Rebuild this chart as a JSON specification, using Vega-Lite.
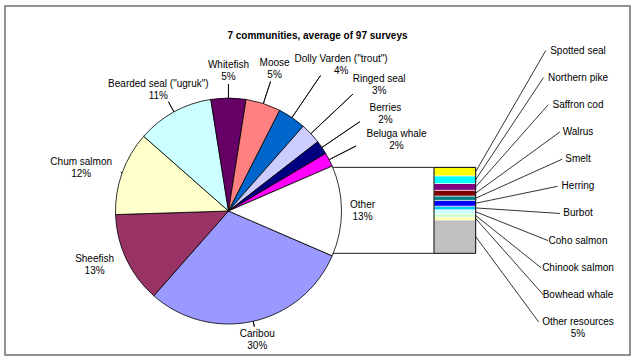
{
  "$schema": "https://vega.github.io/schema/vega-lite/v6.json",
  "width": 625,
  "height": 349,
  "autosize": "none",
  "padding": {"left": 5, "top": 6, "right": 7, "bottom": 7},
  "background": "white",
  "config": {
    "view": {"stroke": "#6f6f6f", "strokeWidth": 1.5},
    "font": "Liberation Sans",
    "text": {"font": "Liberation Sans", "fontSize": 10, "color": "#000000"}
  },
  "title": {
    "text": "7 communities, average of 97 surveys",
    "anchor": "middle",
    "font": "Liberation Sans",
    "fontSize": 10,
    "fontWeight": "bold",
    "color": "#000000",
    "baseline": "middle",
    "offset": -40.4
  },
  "datasets": {
    "pie": [
      {"name": "Caribou", "value": 0.30, "order": 1},
      {"name": "Sheefish", "value": 0.13, "order": 2},
      {"name": "Chum salmon", "value": 0.12, "order": 3},
      {"name": "Bearded seal (\"ugruk\")", "value": 0.11, "order": 4},
      {"name": "Whitefish", "value": 0.05, "order": 5},
      {"name": "Moose", "value": 0.05, "order": 6},
      {"name": "Dolly Varden (\"trout\")", "value": 0.04, "order": 7},
      {"name": "Ringed seal", "value": 0.03, "order": 8},
      {"name": "Berries", "value": 0.02, "order": 9},
      {"name": "Beluga whale", "value": 0.02, "order": 10},
      {"name": "Other", "value": 0.13, "order": 11}
    ],
    "other": [
      {"name": "Other resources", "value": 0.0505, "order": 1},
      {"name": "Bowhead whale", "value": 0.0040, "order": 2},
      {"name": "Chinook salmon", "value": 0.0052, "order": 3},
      {"name": "Coho salmon", "value": 0.0061, "order": 4},
      {"name": "Burbot", "value": 0.0055, "order": 5},
      {"name": "Herring", "value": 0.0087, "order": 6},
      {"name": "Smelt", "value": 0.0066, "order": 7},
      {"name": "Walrus", "value": 0.0087, "order": 8},
      {"name": "Saffron cod", "value": 0.0102, "order": 9},
      {"name": "Northern pike", "value": 0.0116, "order": 10},
      {"name": "Spotted seal", "value": 0.0128, "order": 11}
    ]
  },
  "layer": [
    {
      "data": {"name": "pie"},
      "encoding": {
        "x": {"datum": "centre", "type": "nominal", "scale": {"type": "point", "range": [0, 447], "padding": 0.5}, "axis": null},
        "y": {"datum": "centre", "type": "nominal", "scale": {"type": "point", "range": [0, 410], "padding": 0.5}, "axis": null},
        "theta": {"field": "value", "type": "quantitative", "stack": true, "scale": {"range": [1.979, 8.262]}},
        "order": {"field": "order", "type": "quantitative"}
      },
      "layer": [
        {
          "mark": {"type": "arc", "outerRadius": 113, "stroke": "#000000", "strokeWidth": 0.8},
          "encoding": {
            "color": {
              "field": "name",
              "type": "nominal",
              "legend": null,
              "scale": {
                "domain": ["Caribou", "Sheefish", "Chum salmon", "Bearded seal (\"ugruk\")", "Whitefish", "Moose", "Dolly Varden (\"trout\")", "Ringed seal", "Berries", "Beluga whale", "Other"],
                "range": ["#9999FF", "#993366", "#FFFFCC", "#CCFFFF", "#660066", "#FF8080", "#0066CC", "#CCCCFF", "#000080", "#FF00FF", "#FFFFFF"]
              }
            }
          }
        },
        {
          "mark": {
            "type": "arc",
            "innerRadius": 113,
            "outerRadius": {"expr": "max(113, 108 + 11*abs(cos(scale('theta', 0.5*datum.value_start + 0.5*datum.value_end))) + 8*max(0, cos(scale('theta', 0.5*datum.value_start + 0.5*datum.value_end))) + 50*pow(2*max(0, sin(scale('theta', 0.5*datum.value_start + 0.5*datum.value_end)))*max(0, cos(scale('theta', 0.5*datum.value_start + 0.5*datum.value_end))), 3))"},
            "padAngle": 3,
            "fillOpacity": 0,
            "stroke": "#000000",
            "strokeWidth": 0.8
          }
        },
        {
          "mark": {
            "type": "text",
            "fontSize": 10,
            "font": "Liberation Sans",
            "align": "center",
            "baseline": "middle",
            "dy": -6,
            "radius": {"expr": "121 + 11*abs(cos(scale('theta', 0.5*datum.value_start + 0.5*datum.value_end))) + 8*max(0, cos(scale('theta', 0.5*datum.value_start + 0.5*datum.value_end))) + 50*pow(2*max(0, sin(scale('theta', 0.5*datum.value_start + 0.5*datum.value_end)))*max(0, cos(scale('theta', 0.5*datum.value_start + 0.5*datum.value_end))), 3)"},
            "dx": {"expr": "(sin(scale('theta', 0.5*datum.value_start + 0.5*datum.value_end)) < 0 ? -1 : 1)*(1 + 2.4*length(datum.name))*clamp((abs(sin(scale('theta', 0.5*datum.value_start + 0.5*datum.value_end))) - 0.45)*2.2, 0, 1)"}
          },
          "encoding": {"text": {"field": "name", "type": "nominal"}}
        },
        {
          "mark": {
            "type": "text",
            "fontSize": 10,
            "font": "Liberation Sans",
            "align": "center",
            "baseline": "middle",
            "dy": 6,
            "radius": {"expr": "121 + 11*abs(cos(scale('theta', 0.5*datum.value_start + 0.5*datum.value_end))) + 8*max(0, cos(scale('theta', 0.5*datum.value_start + 0.5*datum.value_end))) + 50*pow(2*max(0, sin(scale('theta', 0.5*datum.value_start + 0.5*datum.value_end)))*max(0, cos(scale('theta', 0.5*datum.value_start + 0.5*datum.value_end))), 3)"},
            "dx": {"expr": "(sin(scale('theta', 0.5*datum.value_start + 0.5*datum.value_end)) < 0 ? -1 : 1)*(1 + 2.4*length(datum.name))*clamp((abs(sin(scale('theta', 0.5*datum.value_start + 0.5*datum.value_end))) - 0.45)*2.2, 0, 1)"}
          },
          "encoding": {"text": {"field": "value", "type": "quantitative", "format": ".0%"}}
        }
      ]
    },
    {
      "data": {"name": "other"},
      "transform": [
        {"stack": "value", "groupby": [], "sort": [{"field": "order", "order": "ascending"}], "as": ["v0", "v1"]}
      ],
      "encoding": {
        "x": {"datum": "bar", "type": "nominal", "scale": {"type": "band", "domain": ["bar"], "range": [429, 470.7], "paddingInner": 0, "paddingOuter": 0}, "axis": null}
      },
      "layer": [
        {
          "mark": {"type": "bar", "stroke": "#ffffff", "strokeWidth": 0.6},
          "encoding": {
            "y": {"field": "v0", "type": "quantitative", "scale": {"domain": [0, 0.13], "range": [247.3, 161.3], "nice": false, "zero": false}, "axis": null},
            "y2": {"field": "v1"},
            "color": {
              "field": "name",
              "type": "nominal",
              "legend": null,
              "scale": {
                "domain": ["Spotted seal", "Northern pike", "Saffron cod", "Walrus", "Smelt", "Herring", "Burbot", "Coho salmon", "Chinook salmon", "Bowhead whale", "Other resources"],
                "range": ["#FFFF00", "#00FFFF", "#800080", "#800000", "#008080", "#0000FF", "#00CCFF", "#CCFFFF", "#CCFFCC", "#FFFF99", "#C0C0C0"]
              }
            }
          }
        },
        {
          "transform": [{"aggregate": [{"op": "min", "field": "v0", "as": "lo"}, {"op": "max", "field": "v1", "as": "hi"}]}],
          "mark": {"type": "bar", "fillOpacity": 0, "stroke": "#000000", "strokeWidth": 1},
          "encoding": {
            "y": {"field": "lo", "type": "quantitative"},
            "y2": {"field": "hi"}
          }
        }
      ]
    },
    {
      "data": {"name": "other"},
      "transform": [
        {"stack": "value", "groupby": [], "sort": [{"field": "order", "order": "ascending"}], "as": ["v0", "v1"]}
      ],
      "encoding": {
        "y": {
          "field": "name",
          "type": "nominal",
          "axis": null,
          "scale": {
            "type": "point",
            "padding": 0,
            "domain": ["Spotted seal", "Northern pike", "Saffron cod", "Walrus", "Smelt", "Herring", "Burbot", "Coho salmon", "Chinook salmon", "Bowhead whale", "Other resources"],
            "range": [44.5, 316.1]
          }
        },
        "x": {"datum": "labels", "type": "nominal", "scale": {"type": "point", "domain": ["barRight", "labels"], "range": [470.7, 573], "padding": 0}, "axis": null}
      },
      "layer": [
        {
          "mark": {
            "type": "rule",
            "stroke": "#000000",
            "strokeWidth": 0.8,
            "xOffset": {"expr": "-(2.35*length(datum.name) + 4)"},
            "y2Offset": {"expr": "scale('layer_1_y', 0.5*datum.v0 + 0.5*datum.v1) - scale('layer_2_y', datum.name)"}
          },
          "encoding": {
            "x2": {"datum": "barRight"},
            "y2": {"field": "name"}
          }
        },
        {
          "mark": {"type": "text", "fontSize": 10, "font": "Liberation Sans", "align": "center", "baseline": "middle"},
          "encoding": {"text": {"field": "name", "type": "nominal"}}
        },
        {
          "transform": [{"filter": "datum.value > 0.02"}],
          "mark": {"type": "text", "fontSize": 10, "font": "Liberation Sans", "align": "center", "baseline": "middle", "dy": 12},
          "encoding": {"text": {"field": "value", "type": "quantitative", "format": ".0%"}}
        }
      ]
    },
    {
      "data": {"name": "other"},
      "transform": [
        {"stack": "value", "groupby": [], "sort": [{"field": "order", "order": "ascending"}], "as": ["v0", "v1"]},
        {"aggregate": [{"op": "min", "field": "v0", "as": "lo"}, {"op": "max", "field": "v1", "as": "hi"}]}
      ],
      "mark": {"type": "bar", "fillOpacity": 0, "stroke": "#222222", "strokeWidth": 1, "strokeDash": [101.3, 85.93]},
      "encoding": {
        "x": {"datum": "conn", "type": "nominal", "scale": {"type": "band", "domain": ["conn"], "range": [327.7, 429], "paddingInner": 0, "paddingOuter": 0}, "axis": null},
        "y": {"field": "lo", "type": "quantitative", "scale": {"domain": [0, 0.13], "range": [247.3, 161.3], "nice": false, "zero": false}, "axis": null},
        "y2": {"field": "hi"}
      }
    }
  ],
  "resolve": {"scale": {"x": "independent", "y": "independent", "color": "independent"}}
}
